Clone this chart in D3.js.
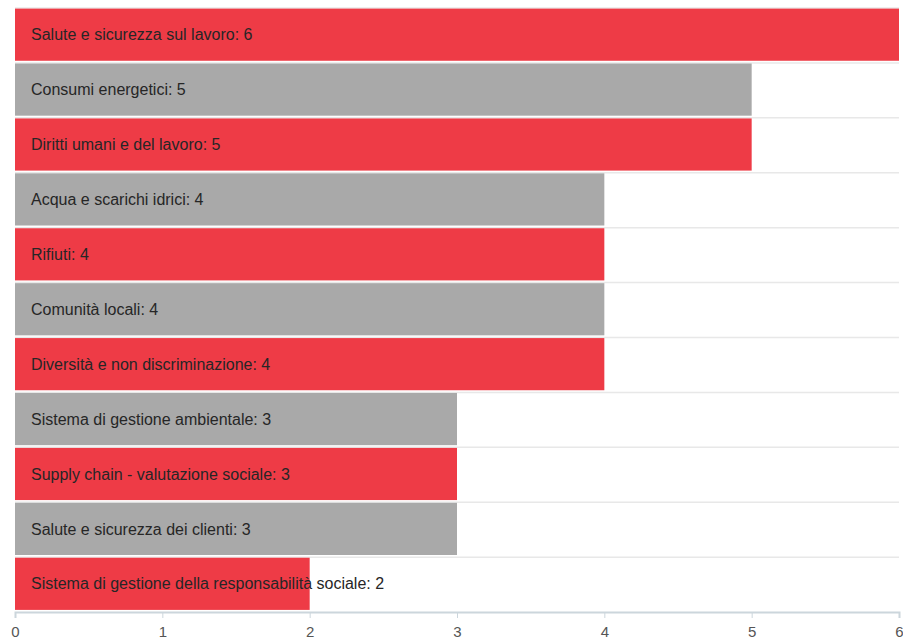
<!DOCTYPE html>
<html><head><meta charset="utf-8">
<script src="https://cdn.jsdelivr.net/npm/d3@7"></script>
<style>body{margin:0;background:#fff}svg{display:block}</style>
</head><body>
<svg id="c" width="903" height="644"></svg>
<script>
const categories = ["Salute e sicurezza sul lavoro","Consumi energetici","Diritti umani e del lavoro","Acqua e scarichi idrici","Rifiuti","Comunità locali","Diversità e non discriminazione","Sistema di gestione ambientale","Supply chain - valutazione sociale","Salute e sicurezza dei clienti","Sistema di gestione della responsabilità sociale"];
const values = [6,5,5,4,4,4,4,3,3,3,2];
const groups = ["red","gray","red","gray","red","gray","red","gray","red","gray","red"];
const xTicks = [0,1,2,3,4,5,6];

const colors = {red:"#ee3b46", gray:"#a9a9a9"};
const svg = d3.select("#c");
const x = d3.scaleLinear().domain([0,6]).range([15,899]);
const y = d3.scaleBand().domain(categories).range([7.5,611]).paddingInner(0.05).paddingOuter(0.02);

const step = y.step();
const bounds = categories.map((c,i)=> 7.5 + i*step);
svg.append("g").selectAll("line").data(bounds).join("line")
  .attr("x1",15).attr("x2",899).attr("y1",d=>d+0.5).attr("y2",d=>d+0.5)
  .attr("stroke","#e8e8e8").attr("stroke-width",1.5);

svg.append("g").selectAll("rect").data(categories).join("rect")
  .attr("x",x(0)).attr("y",d=>y(d)).attr("height",y.bandwidth())
  .attr("width",(d,i)=>x(values[i])-x(0))
  .attr("fill",(d,i)=>colors[groups[i]]);

svg.append("g").selectAll("text").data(categories).join("text")
  .attr("x",31).attr("y",d=>y(d)+y.bandwidth()/2).attr("dy","0.35em")
  .attr("font-family","Arial, 'Liberation Sans', sans-serif").attr("font-size",16)
  .attr("fill","#262626").text((d,i)=>d+": "+values[i]);

const ax = svg.append("g").attr("transform","translate(0,612)")
  .call(d3.axisBottom(x).tickValues(xTicks).tickSize(6).tickPadding(8).tickFormat(d3.format("d")));
ax.select(".domain").attr("stroke","#ccd6dc").attr("stroke-width",2);
ax.selectAll(".tick line").attr("stroke","#ccd6dc");
ax.selectAll(".tick text").attr("font-family","Arial, 'Liberation Sans', sans-serif").attr("font-size",15).attr("fill","#555");
</script>
</body></html>
